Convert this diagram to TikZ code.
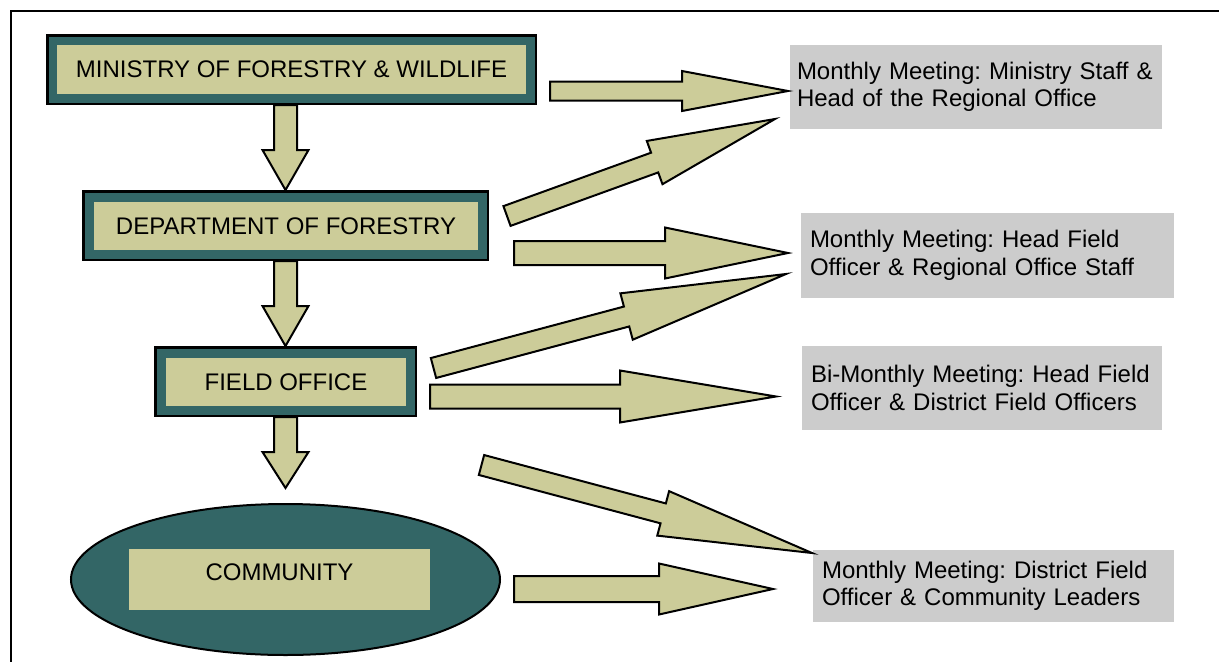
\documentclass[tikz,border=0pt]{standalone}
\usepackage{fontspec}
\setmainfont{Liberation Sans}
\usetikzlibrary{calc,shapes.geometric}
\definecolor{boxteal}{RGB}{51,102,102}
\definecolor{boxkhaki}{RGB}{204,204,153}
\definecolor{notegray}{RGB}{204,204,204}
\newcommand{\blockarrow}[5]{%
	\coordinate (ah) at ($(#2)!#5!(#1)$);
	\draw[arrowbody] ($(#1)!#3!90:(#2)$) -- ($(ah)!#3!-90:(#1)$) -- ($(ah)!#4!-90:(#1)$) -- (#2) -- ($(ah)!#4!90:(#1)$) -- ($(ah)!#3!90:(#1)$) -- ($(#1)!#3!-90:(#2)$) -- cycle;
}

\begin{document}
\begin{tikzpicture}[x=1pt, y=-1pt, font=\fontsize{24}{27.5}\selectfont\frenchspacing,
		outerbox/.style={draw, line width=2.5pt, fill=boxteal, inner sep=0pt},
		innerbox/.style={fill=boxkhaki, inner sep=0pt},
		note/.style={fill=notegray, align=left, inner xsep=9pt, inner ysep=0pt},
		arrowbody/.style={draw, line width=2pt, line join=miter, fill=boxkhaki}]
				\useasboundingbox (0, 0) rectangle (1219, 662);
				\draw[line width=2pt] (1219, 11) -- (11, 11) -- (11, 662);
				\node[outerbox, minimum width=488.5pt, minimum height=68.5pt] (minO)at(291.5, 69.5) {};
				\node[innerbox, minimum width=469pt, minimum height=49pt] (min)at(291.5, 69.5) {MINISTRY OF FORESTRY \& WILDLIFE};
				\node[outerbox, minimum width=404.5pt, minimum height=68.5pt] (depO)at(285.5, 225.5) {};
				\node[innerbox, minimum width=384pt, minimum height=48pt] (dep)at(286, 226) {DEPARTMENT OF FORESTRY};
				\node[outerbox, minimum width=260.5pt, minimum height=68.5pt] (fldO)at(285.5, 381.5) {};
				\node[innerbox, minimum width=240pt, minimum height=48pt] (fld)at(286, 382) {FIELD OFFICE};
				\node[draw, ellipse, line width=2pt, fill=boxteal, inner sep=0pt, minimum width=429pt, minimum height=151pt] (comO)at(285.5, 579.5) {};
				\node[innerbox, minimum width=301pt, minimum height=61pt] (comB)at(279.5, 579.5) {};
				\node (com)at(279.5, 572) {COMMUNITY};
				\node[note, inner xsep=7pt, text width=358pt, minimum height=84pt] (m1)at(976, 87) {Monthly Meeting: Ministry Staff \&\\Head of the Regional Office};
				\node[note, text width=355pt, minimum height=85pt] (m2)at(987.5, 255.5) {Monthly Meeting: Head Field\\Officer \& Regional Office Staff};
				\node[note, text width=342pt, minimum height=84pt] (m3)at(982, 388) {Bi-Monthly Meeting: Head Field\\Officer \& District Field Officers};
				\node[note, text width=343pt, minimum height=72pt] (m4)at(993.5, 586) {Monthly Meeting: District Field\\Officer \& Community Leaders};
				\coordinate (d3)at(285.5, 488);
				\coordinate (a1s)at(550, 91);
				\coordinate (a1e)at(788, 91);
				\coordinate (a2s)at(507, 216);
				\coordinate (a2e)at(775, 119);
				\coordinate (a3s)at(514, 253);
				\coordinate (a3e)at(788, 253);
				\coordinate (a4s)at(433.5, 368);
				\coordinate (a4e)at(786, 274);
				\coordinate (a5s)at(430, 396.5);
				\coordinate (a5e)at(776, 396.5);
				\coordinate (a6s)at(481.5, 465);
				\coordinate (a6e)at(812, 553);
				\coordinate (a7s)at(514, 589);
				\coordinate (a7e)at(773, 589);
				\blockarrow{depO.north |- minO.south}{depO.north}{11.5pt}{23pt}{40pt}
				\blockarrow{depO.south}{fldO.north}{11.5pt}{23pt}{40pt}
				\blockarrow{fldO.south}{d3}{11.5pt}{23pt}{36pt}
				\blockarrow{a1s}{a1e}{9.5pt}{20pt}{106pt}
				\blockarrow{a2s}{a2e}{10.5pt}{23pt}{128pt}
				\blockarrow{a3s}{a3e}{12pt}{25.5pt}{123pt}
				\blockarrow{a4s}{a4e}{10.3pt}{24pt}{165pt}
				\blockarrow{a5s}{a5e}{12pt}{26pt}{156pt}
				\blockarrow{a6s}{a6e}{10.3pt}{23pt}{154pt}
				\blockarrow{a7s}{a7e}{13pt}{25.5pt}{114pt}
\end{tikzpicture}
\end{document}
